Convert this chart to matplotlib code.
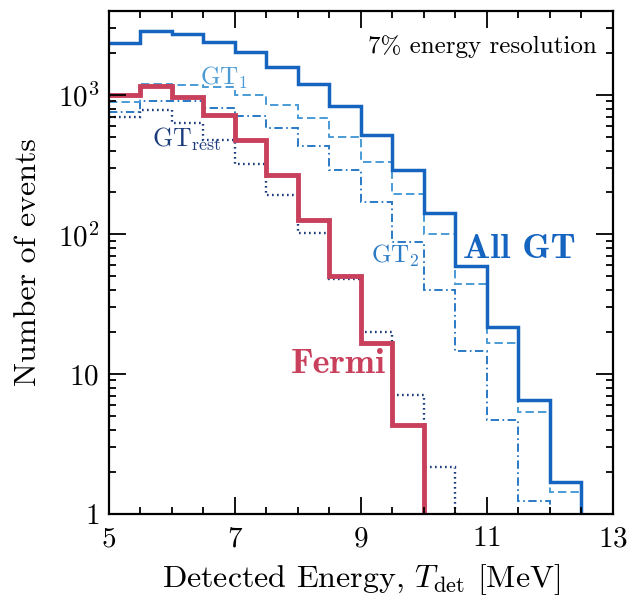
import numpy as np
import matplotlib
matplotlib.use("Agg")
import matplotlib.pyplot as plt
from matplotlib.ticker import FixedLocator, FixedFormatter, LogLocator, MultipleLocator, NullFormatter

# ---- data ----
edges = [5.0, 5.5, 6.0, 6.5, 7.0, 7.5, 8.0, 8.5, 9.0, 9.5, 10.0, 10.5, 11.0, 11.5, 12.0, 12.5, 13.0]
all_gt = [2340, 2890, 2730, 2380, 2020, 1590, 1200, 834, 516, 290, 142, 59.6, 21.6, 6.5, 1.67, 0]
gt1 = [890, 1200, 1180, 1150, 998, 847, 680, 497, 333, 195, 100, 44.3, 16.7, 5.35, 1.43, 0]
gt2 = [750, 909, 909, 805, 706, 577, 431, 290, 171, 88, 39.7, 14.5, 4.66, 1.22, 0.24, 0]
gt_rest = [698, 780, 632, 476, 319, 192, 103, 47.9, 19.9, 7.1, 2.16, 0.8, 0, 0, 0, 0]
fermi = [998, 1159, 971, 718, 476, 267, 126, 50.6, 16.6, 4.31, 0, 0, 0, 0, 0, 0]

xticks = [5, 7, 9, 11, 13]
yticks = [1, 10, 100, 1000]
ytick_labels = [r"$1$", r"$10$", r"$10^2$", r"$10^3$"]

plt.rcParams["mathtext.fontset"] = "cm"
plt.rcParams["font.family"] = ["cmr10", "DejaVu Serif"]
plt.rcParams["axes.formatter.use_mathtext"] = True
plt.rcParams["lines.scale_dashes"] = False

c_all = "#1565c0"
c_gt1 = "#4a9bd6"
c_gt2 = "#2b7ac6"
c_rest = "#1b3b7c"
c_fermi = "#c9405c"

fig = plt.figure(figsize=(6.29, 5.98), dpi=100)
ax = fig.add_axes([109 / 629, 1 - 513.5 / 598, (612.5 - 109) / 629, (513.5 - 11) / 598])

def prep(v):
    v = np.asarray(v, dtype=float)
    return np.where(v > 0, v, 1e-3)

ax.stairs(prep(gt_rest), edges, baseline=None, color=c_rest, lw=1.7,
          linestyle=(0, (1.2, 2.4)))
ax.stairs(prep(gt2), edges, baseline=None, color=c_gt2, lw=1.4,
          linestyle=(0, (6, 2.5, 1.2, 2.5)))
ax.stairs(prep(gt1), edges, baseline=None, color=c_gt1, lw=1.4,
          linestyle=(0, (6, 3)))
ax.stairs(prep(fermi), edges, baseline=None, color=c_fermi, lw=3.5)
ax.stairs(prep(all_gt), edges, baseline=None, color=c_all, lw=2.5)

ax.set_yscale("log")
ax.set_xlim(5, 13)
ax.set_ylim(1, 4000)

ax.xaxis.set_major_locator(FixedLocator(xticks))
ax.xaxis.set_major_formatter(FixedFormatter([rf"${t}$" for t in xticks]))
ax.xaxis.set_minor_locator(MultipleLocator(0.5))
ax.yaxis.set_major_locator(FixedLocator(yticks))
ax.yaxis.set_major_formatter(FixedFormatter(ytick_labels))
ax.yaxis.set_minor_locator(LogLocator(base=10, subs=np.arange(2, 10)))
ax.yaxis.set_minor_formatter(NullFormatter())

ax.tick_params(which="both", direction="in", top=True, right=True, labelsize=21, width=1.3)
ax.tick_params(which="major", length=12)
ax.tick_params(axis="x", which="major", pad=9)
ax.tick_params(axis="y", which="major", pad=7)
ax.tick_params(which="minor", length=5)
for s in ax.spines.values():
    s.set_linewidth(1.6)

ax.set_xlabel(r"Detected Energy, $T_{\rm det}$ [MeV]", fontsize=23, labelpad=7)
ax.set_ylabel("Number of events", fontsize=23, labelpad=11)

ax.text(12.75, 1986, "7% energy resolution", ha="right", va="baseline", fontsize=18, color="black")
ax.text(6.45, 1178, r"GT$_1$", color=c_gt1, fontsize=18, ha="left", va="baseline")
ax.text(5.68, 424, r"GT$_{\rm rest}$", color=c_rest, fontsize=18.5, ha="left", va="baseline")
ax.text(9.16, 62.6, r"GT$_2$", color=c_gt2, fontsize=18, ha="left", va="baseline")
ax.text(10.62, 68, "All GT", color=c_all, fontsize=26, family="cmb10", ha="left", va="baseline")
ax.text(7.89, 10.2, "Fermi", color=c_fermi, fontsize=26, family="cmb10", ha="left", va="baseline")

fig.savefig("out.png", dpi=100)
